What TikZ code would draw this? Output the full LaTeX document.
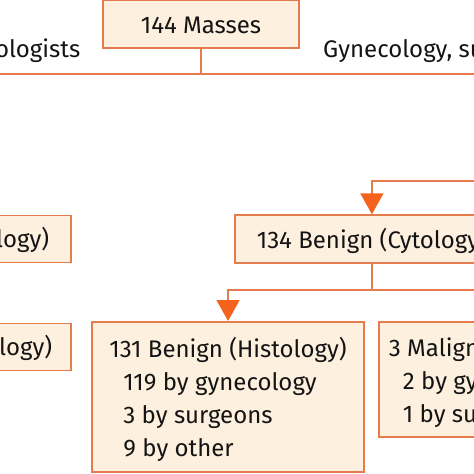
\documentclass[tikz,border=0pt]{standalone}
\usepackage{fontspec}
\setmainfont{Fira Sans}
\usetikzlibrary{arrows.meta,calc}
\definecolor{lineC}{RGB}{228,124,78}
\definecolor{fillC}{RGB}{253,240,222}
\definecolor{arrC}{RGB}{245,98,30}
\definecolor{txtC}{RGB}{20,20,20}
\newcommand{\txtsz}{\fontsize{24}{33}\selectfont}
\newcommand{\topstrut}{\rule{0pt}{28pt}}
\newcommand{\botstrut}{\rule[-8pt]{0pt}{8pt}}
\begin{document}
\begin{tikzpicture}[x=1pt,y=-1pt,
  box/.style={draw=lineC,fill=fillC,line width=1.8pt,text=txtC,inner ysep=0pt,font=\txtsz},
  one/.style={text height=18pt,text depth=0pt},
  conn/.style={draw=lineC,line width=1.6pt},
  arr/.style={conn,-{Triangle[width=23pt,length=21pt,color=arrC,fill=arrC]}},
  lbl/.style={text=txtC,inner sep=0pt,font=\txtsz}]
\useasboundingbox (0,0) rectangle (474,474);
\clip (0,0) rectangle (474,474);
% boxes
\node[box,one,minimum width=196pt,minimum height=47.5pt] (A) at (201,24.25) {144 Masses};
\node[box,one,anchor=north west,minimum width=274pt,minimum height=48pt] (B) at (234,214.3) {134 Benign (Cytology)};
\node[box,one,anchor=north east,inner xsep=22pt,minimum height=47pt] (L1) at (72,214.5) {(Cytology)};
\node[box,one,anchor=north east,inner xsep=19pt,minimum height=47pt] (L2) at (72,322.5) {(Histology)};
\node[box,anchor=north west,inner xsep=17.5pt,minimum height=150pt,align=left] (C) at (91,321)
  {\topstrut131 Benign (Histology)\\\hspace*{14pt}119 by gynecology\\\hspace*{14pt}3 by surgeons\\\hspace*{14pt}9 by other\botstrut};
\node[box,anchor=north west,inner xsep=10pt,minimum height=115pt,align=left] (D) at (378,321)
  {\topstrut3 Malignant (Histology)\\\hspace*{14pt}2 by gynecology\\\hspace*{14pt}1 by surgeons\botstrut};
% labels
\node[lbl,anchor=base east] (lab1) at (80.5,57) {ologists};
\node[lbl,anchor=base west] (lab2) at (323,57) {Gynecology, surgeons, other};
% connectors
\coordinate (jA) at (201,74);
\coordinate (hl) at (-10,74);
\coordinate (hr) at (484,74);
\draw[conn] (A.south) -- (jA);
\draw[conn] (hl) -- (hr);
\coordinate (inR) at (490,181);
\draw[arr] (inR) -| (B.north);
\coordinate (jB) at ($(B.south)+(0,26)$);
\draw[conn] (B.south) -- (jB);
\draw[arr] (jB) -| (C.north);
\draw[conn] (jB) -| (D.north);
\end{tikzpicture}
\end{document}
